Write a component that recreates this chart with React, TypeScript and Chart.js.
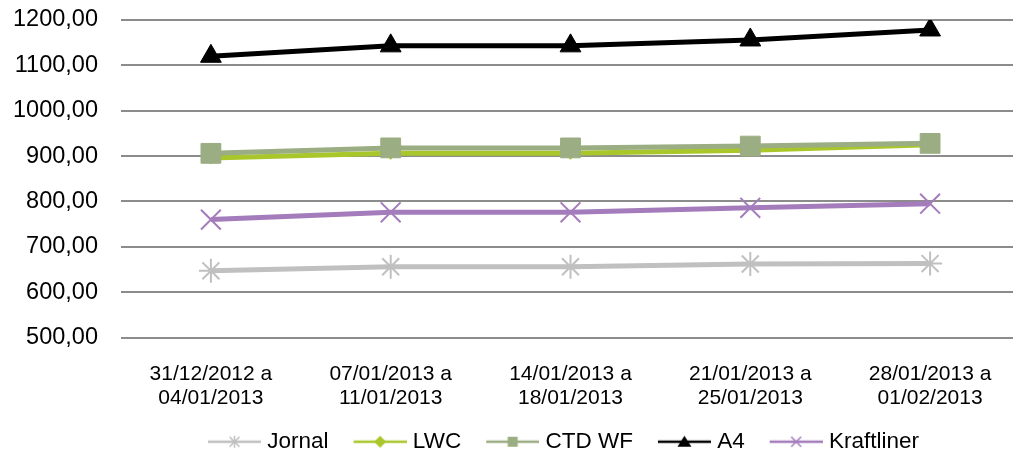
import React, { useEffect, useRef } from "react";
import { Chart, registerables } from "chart.js";

Chart.register(...registerables);

const categories: string[][] = [
  ["31/12/2012 a", "04/01/2013"],
  ["07/01/2013 a", "11/01/2013"],
  ["14/01/2013 a", "18/01/2013"],
  ["21/01/2013 a", "25/01/2013"],
  ["28/01/2013 a", "01/02/2013"],
];

const jornal = [647, 656, 656, 662, 663];
const lwc = [896, 906, 906, 913, 925];
const ctdwf = [906, 918, 918, 922, 928];
const a4 = [1120, 1143, 1143, 1156, 1178];
const kraftliner = [760, 776, 776, 786, 795];

const yTicks = [500, 600, 700, 800, 900, 1000, 1100, 1200];

const FONT = "'Liberation Sans', Arial, sans-serif";

// legend icon: transparent left margin A, visible line of length 53
const ICON_A = 7;
const ICON_W = 60;

function legendIcon(color: string, marker: string): HTMLCanvasElement {
  const c = document.createElement("canvas");
  c.width = ICON_W;
  c.height = 20;
  const ctx = c.getContext("2d")!;
  const cy = 10;
  const x0 = ICON_A;
  const cx = x0 + 26.5;
  ctx.strokeStyle = color;
  ctx.fillStyle = color;
  ctx.lineWidth = 2.5;
  ctx.beginPath();
  ctx.moveTo(x0, cy);
  ctx.lineTo(x0 + 53, cy);
  ctx.stroke();
  ctx.lineWidth = 1.5;
  if (marker === "star") {
    const r = 5;
    ctx.beginPath();
    ctx.moveTo(cx - r, cy - r); ctx.lineTo(cx + r, cy + r);
    ctx.moveTo(cx - r, cy + r); ctx.lineTo(cx + r, cy - r);
    ctx.moveTo(cx, cy - r - 1); ctx.lineTo(cx, cy + r + 1);
    ctx.stroke();
  } else if (marker === "diamond") {
    const r = 6;
    ctx.beginPath();
    ctx.moveTo(cx, cy - r); ctx.lineTo(cx + r, cy); ctx.lineTo(cx, cy + r); ctx.lineTo(cx - r, cy);
    ctx.closePath();
    ctx.fill();
  } else if (marker === "square") {
    ctx.fillRect(cx - 5, cy - 5, 10, 10);
  } else if (marker === "triangle") {
    ctx.beginPath();
    ctx.moveTo(cx, cy - 6); ctx.lineTo(cx + 7, cy + 5); ctx.lineTo(cx - 7, cy + 5);
    ctx.closePath();
    ctx.fill();
  } else if (marker === "x") {
    const r = 5;
    ctx.beginPath();
    ctx.moveTo(cx - r, cy - r); ctx.lineTo(cx + r, cy + r);
    ctx.moveTo(cx - r, cy + r); ctx.lineTo(cx + r, cy - r);
    ctx.stroke();
  }
  return c;
}

const legendShift = {
  id: "legendShift",
  afterLayout(chart: any) {
    const lg = chart.legend;
    if (lg) {
      lg.left -= 8;
      lg.right -= 8;
    }
  },
};

export default function App() {
  const ref = useRef<HTMLCanvasElement | null>(null);

  useEffect(() => {
    document.body.style.margin = "0";
    document.body.style.overflow = "hidden";
    const canvas = ref.current;
    if (!canvas) return;

    const series = [
      { label: "Jornal", data: jornal, color: "#c0c0c0", style: "star", radius: 12, bw: 2, marker: "star", order: 0 },
      { label: "LWC", data: lwc, color: "#a9c72a", style: "rectRot", radius: 6, bw: 1, marker: "diamond", order: 1 },
      { label: "CTD WF", data: ctdwf, color: "#9bad82", style: "rect", radius: 14, bw: 1, marker: "square", order: 0 },
      { label: "A4", data: a4, color: "#000000", style: "triangle", radius: 12, bw: 1, marker: "triangle", order: 0 },
      { label: "Kraftliner", data: kraftliner, color: "#a47cbc", style: "crossRot", radius: 14, bw: 2, marker: "x", order: 0 },
    ];

    const icons = series.map((s) => legendIcon(s.color, s.marker));

    const chart = new Chart(canvas, {
      type: "line",
      plugins: [legendShift],
      data: {
        labels: categories,
        datasets: series.map((s) => ({
          label: s.label,
          data: s.data,
          borderColor: s.color,
          backgroundColor: s.color,
          borderWidth: 5,
          pointStyle: s.style as any,
          pointRadius: s.radius,
          pointBorderWidth: s.bw,
          pointBorderColor: s.color,
          pointBackgroundColor: s.color,
          tension: 0,
          order: s.order,
        })),
      },
      options: {
        animation: false,
        responsive: false,
        maintainAspectRatio: false,
        layout: { autoPadding: false, padding: { top: 20, right: 0, left: 13, bottom: -6 } },
        plugins: {
          tooltip: { enabled: false },
          legend: {
            position: "bottom",
            fullSize: false,
            labels: {
              usePointStyle: true,
              pointStyleWidth: 50,
              boxHeight: 20,
              padding: 23,
              color: "#000",
              font: { family: FONT, size: 22.5 },
              generateLabels: () =>
                series.map((s, i) => ({
                  text: s.label,
                  datasetIndex: i,
                  pointStyle: icons[i],
                  fillStyle: s.color,
                  strokeStyle: s.color,
                  lineWidth: 0,
                  hidden: false,
                  fontColor: "#000",
                })),
            },
          },
        },
        scales: {
          x: {
            offset: true,
            grid: { display: false, drawTicks: false },
            border: { display: false },
            afterFit: (axis: any) => {
              axis.paddingLeft = 0;
              axis.paddingRight = 0;
              axis.height = 70;
            },
            ticks: {
              color: "#000",
              font: { family: FONT, size: 21, lineHeight: 24 / 21 },
              padding: 25,
              maxRotation: 0,
              autoSkip: false,
            },
          },
          y: {
            min: 500,
            max: 1200,
            afterBuildTicks: (axis: any) => {
              axis.ticks = yTicks.map((v) => ({ value: v }));
            },
            afterFit: (axis: any) => {
              axis.paddingTop = 0;
              axis.paddingBottom = 0;
              axis.width = 108;
            },
            grid: { color: "#8c8c8c", lineWidth: 2, drawTicks: false },
            border: { display: false },
            ticks: {
              color: "#000",
              font: { family: FONT, size: 23.5 },
              padding: 23,
              callback: (v: any) => Number(v).toFixed(2).replace(".", ","),
            },
          },
        },
      },
    });

    return () => chart.destroy();
  }, []);

  return (
    <div style={{ width: 1013, height: 457, overflow: "hidden" }}>
      <canvas ref={ref} width={1020} height={457} style={{ display: "block" }} />
    </div>
  );
}
